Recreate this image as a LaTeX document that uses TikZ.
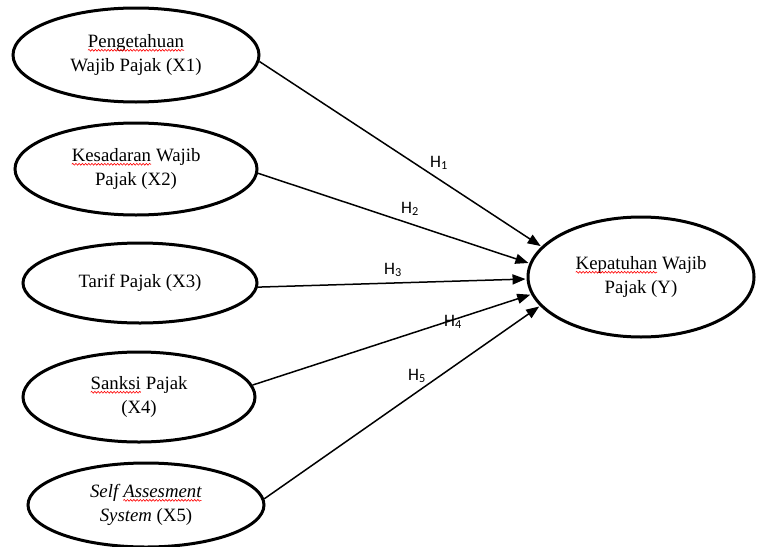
\documentclass[tikz,border=0pt]{standalone}
\usepackage{fontspec}
\setmainfont{Liberation Serif}
\newfontfamily\hfont{Carlito}
\usetikzlibrary{shapes.geometric,arrows.meta,decorations.pathmorphing}
\newcommand\spell[1]{\tikz[baseline=(w.base)]{\node[rectangle, minimum width=0pt, minimum height=0pt, inner sep=0pt, outer sep=0pt, draw=none, fill=none] (w) {#1};
  \draw[red, line width=0.6pt, decorate, decoration={snake, amplitude=0.9pt, segment length=3.2pt}]
    ([yshift=-3pt]w.base west) -- ([yshift=-3pt]w.base east);}}
\tikzset{
  var/.style={ellipse, draw, line width=3pt, inner sep=0pt, align=center,
    font=\fontsize{18.8}{24.5}\selectfont},
  pathline/.style={line width=1.5pt, -{Triangle[length=13pt,width=10pt]}, shorten >=1pt},
  hyp/.style={font=\hfont\fontsize{17.5}{20}\selectfont, inner sep=0pt}
}
\begin{document}
\begin{tikzpicture}[x=1pt,y=-1pt]
\fill[white] (0,0) rectangle (757,546);
\useasboundingbox (0,0) rectangle (757,546);

\node[var, minimum width=246pt, minimum height=94pt] (x1) at (136,55) {\spell{Pengetahuan}\\Wajib Pajak (X1)};
\node[var, minimum width=242pt, minimum height=92pt] (x2) at (136,169) {\spell{Kesadaran} Wajib\\Pajak (X2)};
\node[var, minimum width=234pt, minimum height=80pt] (x3) at (140,283) {Tarif Pajak (X3)};
\node[var, minimum width=232pt, minimum height=90pt] (x4) at (139,397) {\spell{Sanksi} Pajak\\(X4)};
\node[var, minimum width=236pt, minimum height=84pt] (x5) at (146,505) {\textit{Self \spell{Assesment}}\\\textit{System} (X5)};
\node[var, minimum width=226pt, minimum height=120pt] (y) at (641,277) {\spell{Kepatuhan} Wajib\\Pajak (Y)};

\draw[pathline] (x1.-3) -- (y.163);
\draw[pathline] (x2.-2) -- (y.173);
\draw[pathline] (x3.-2) -- (y.181);
\draw[pathline] (x4.6) -- (y.189);
\draw[pathline] (x5.3) -- (y.196);

\node[hyp] (h1) at (439,163) {H\textsubscript{1}};
\node[hyp] (h2) at (410,209) {H\textsubscript{2}};
\node[hyp] (h3) at (393,270) {H\textsubscript{3}};
\node[hyp] (h4) at (453,322) {H\textsubscript{4}};
\node[hyp] (h5) at (417,376) {H\textsubscript{5}};
\end{tikzpicture}
\end{document}
